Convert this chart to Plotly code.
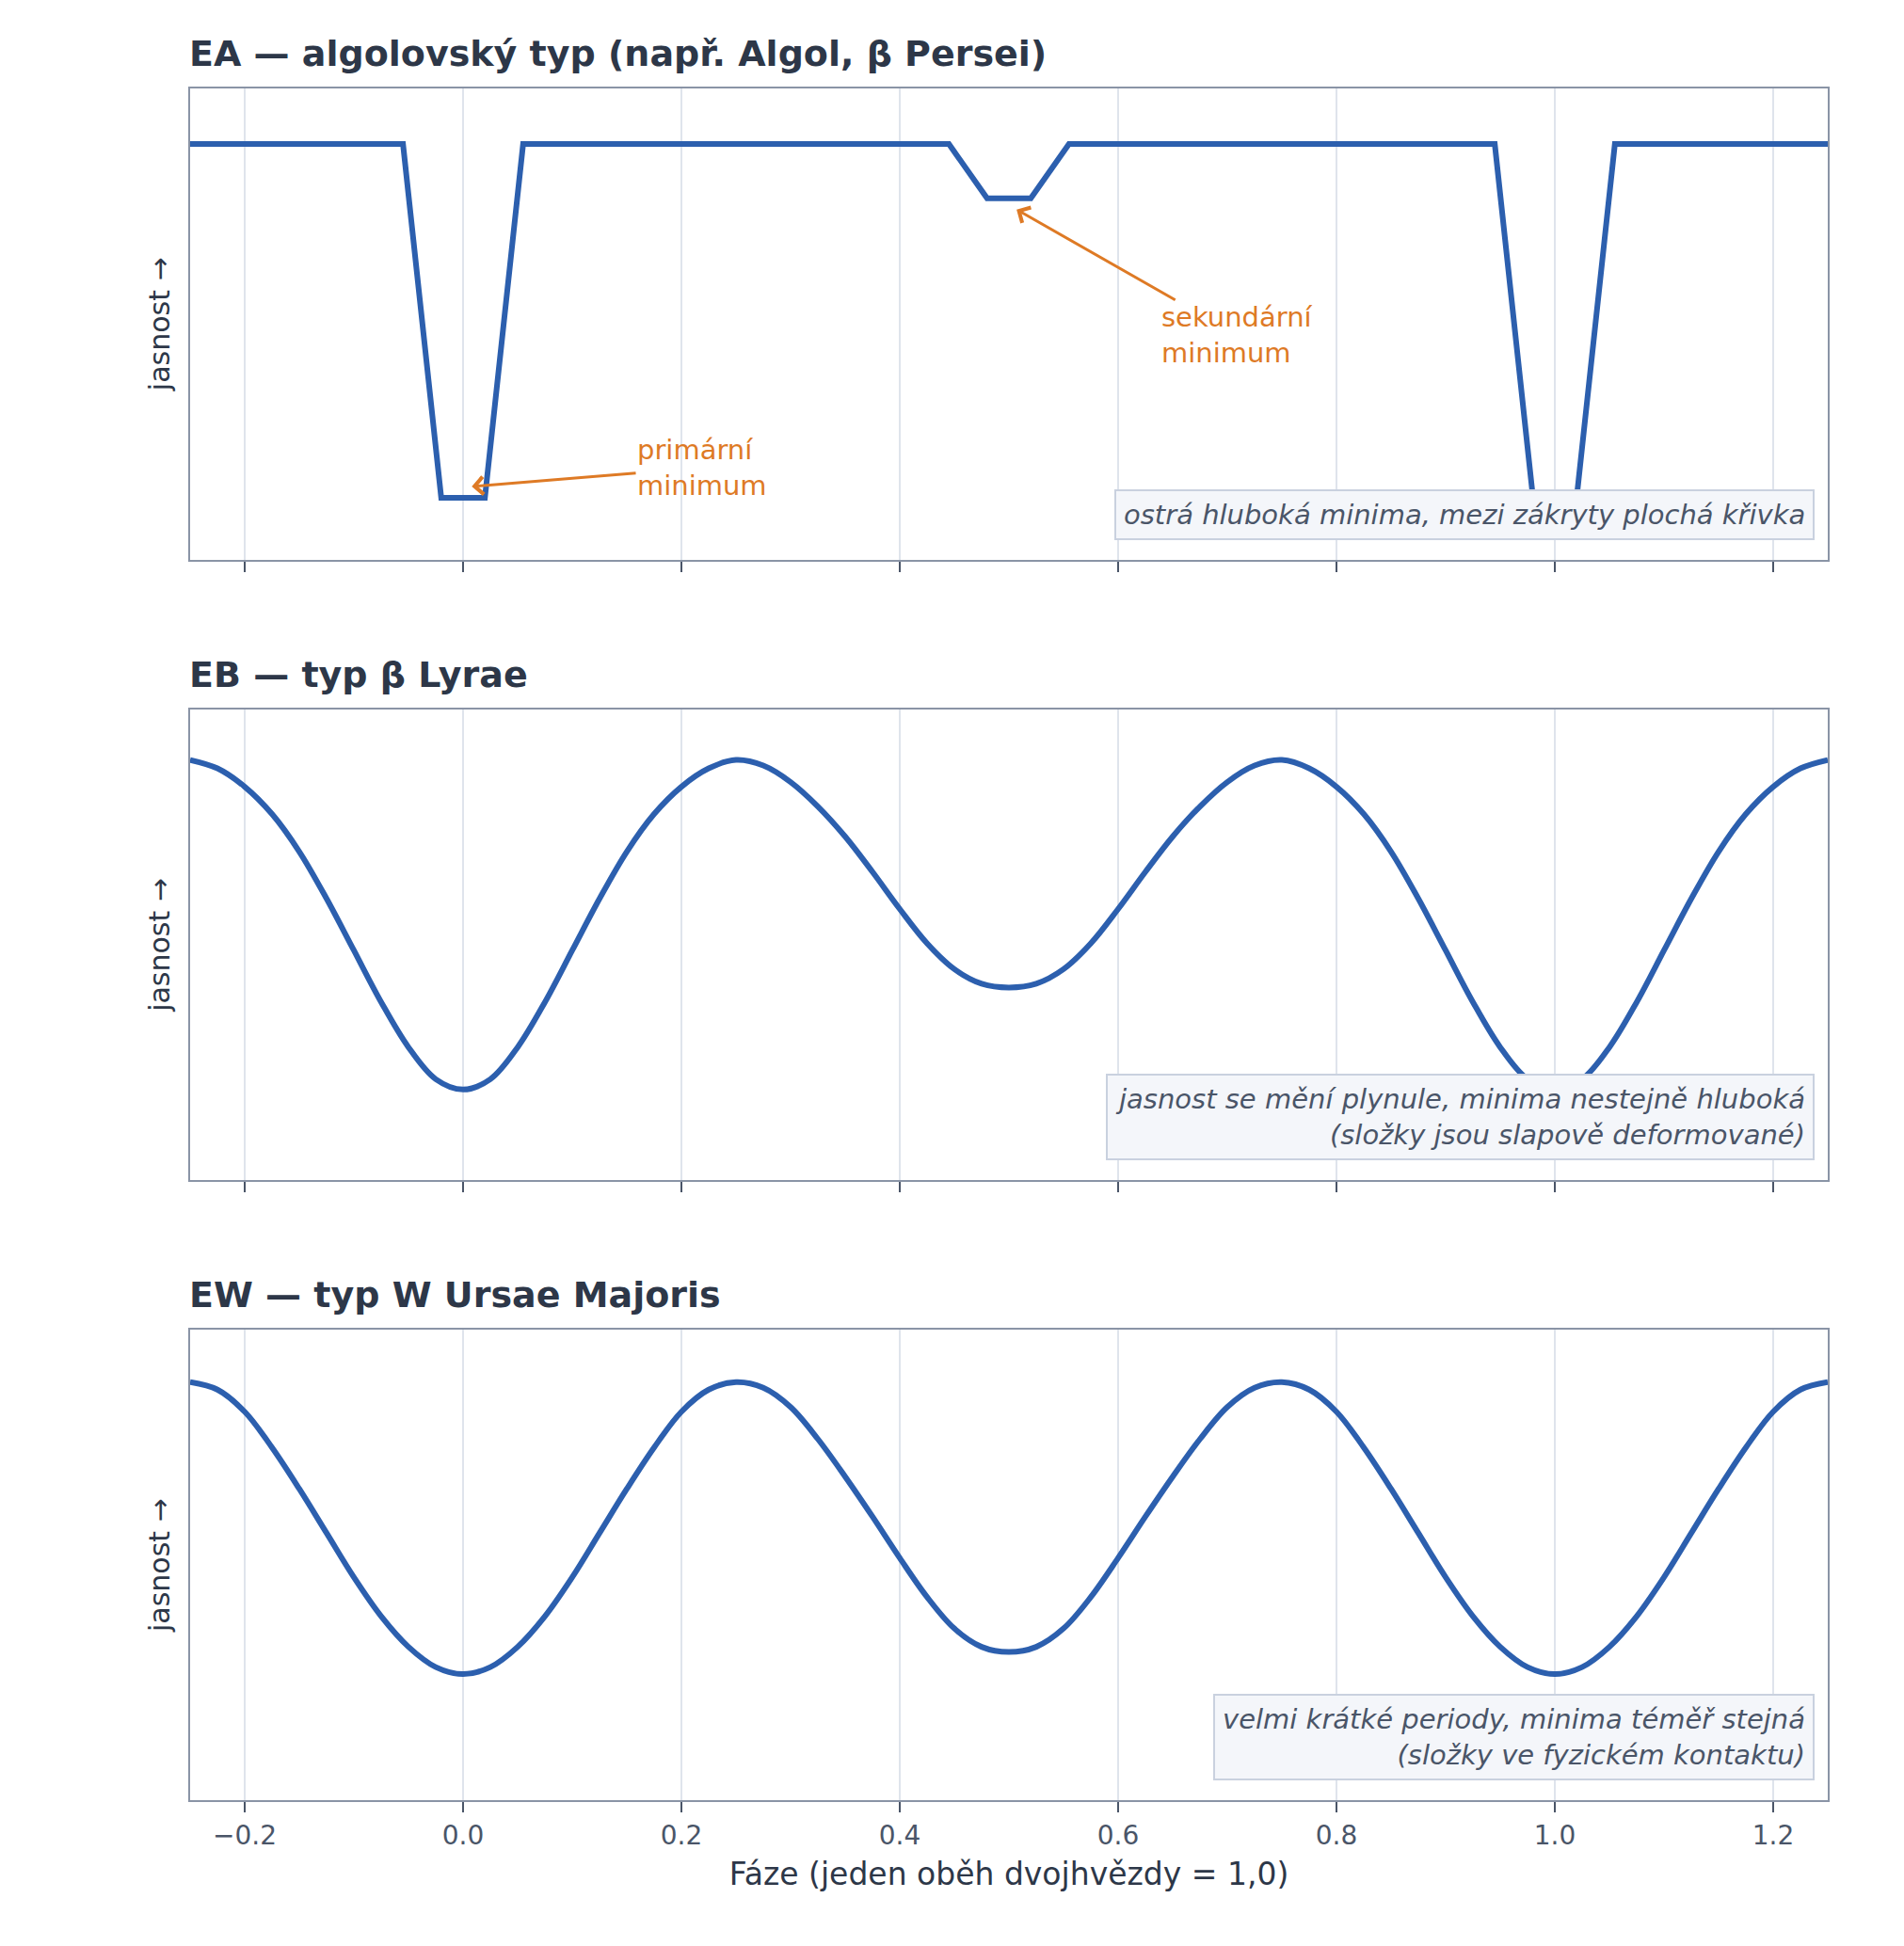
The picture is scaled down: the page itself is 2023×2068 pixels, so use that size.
import plotly.graph_objects as go
from plotly.subplots import make_subplots

# EA (Algol): piecewise light curve, brightness in axis fraction units
phase_ea = [-0.25, -0.055, -0.02, 0.02, 0.055, 0.445, 0.48, 0.52, 0.555,
            0.945, 0.98, 1.02, 1.055, 1.25]
flux_ea = [0.882, 0.882, 0.131, 0.131, 0.882, 0.882, 0.767, 0.767, 0.882,
           0.882, 0.131, 0.131, 0.882, 0.882]

# EB / EW: values read every 0.025 in phase
phase_smooth = [-0.25, -0.225, -0.2, -0.175, -0.15, -0.125, -0.1, -0.075, -0.05, -0.025,
                0.0, 0.025, 0.05, 0.075, 0.1, 0.125, 0.15, 0.175, 0.2, 0.225,
                0.25, 0.275, 0.3, 0.325, 0.35, 0.375, 0.4, 0.425, 0.45, 0.475,
                0.5, 0.525, 0.55, 0.575, 0.6, 0.625, 0.65, 0.675, 0.7, 0.725,
                0.75, 0.775, 0.8, 0.825, 0.85, 0.875, 0.9, 0.925, 0.95, 0.975,
                1.0, 1.025, 1.05, 1.075, 1.1, 1.125, 1.15, 1.175, 1.2, 1.225, 1.25]
flux_eb = [0.893, 0.875, 0.836, 0.778, 0.698, 0.598, 0.488, 0.378, 0.282, 0.214,
           0.192, 0.214, 0.282, 0.378, 0.488, 0.598, 0.698, 0.778, 0.836, 0.875,
           0.893, 0.881, 0.846, 0.794, 0.730, 0.655, 0.576, 0.503, 0.448, 0.417,
           0.409, 0.417, 0.448, 0.503, 0.576, 0.655, 0.730, 0.794, 0.846, 0.881,
           0.893, 0.875, 0.836, 0.778, 0.698, 0.598, 0.488, 0.378, 0.282, 0.214,
           0.192, 0.214, 0.282, 0.378, 0.488, 0.598, 0.698, 0.778, 0.836, 0.875, 0.893]
flux_ew = [0.889, 0.873, 0.826, 0.750, 0.662, 0.568, 0.474, 0.391, 0.326, 0.283,
           0.268, 0.283, 0.326, 0.391, 0.474, 0.568, 0.662, 0.750, 0.826, 0.873,
           0.889, 0.877, 0.836, 0.768, 0.688, 0.603, 0.515, 0.432, 0.365, 0.326,
           0.315, 0.326, 0.365, 0.432, 0.515, 0.603, 0.688, 0.768, 0.836, 0.877,
           0.889, 0.873, 0.826, 0.750, 0.662, 0.568, 0.474, 0.391, 0.326, 0.283,
           0.268, 0.283, 0.326, 0.391, 0.474, 0.568, 0.662, 0.750, 0.826, 0.873, 0.889]

tick_vals = [-0.2, 0.0, 0.2, 0.4, 0.6, 0.8, 1.0, 1.2]
tick_text = ["−0.2", "0.0", "0.2", "0.4", "0.6", "0.8", "1.0", "1.2"]

panel_titles = [
    "EA — algolovský typ (např. Algol, β Persei)",
    "EB — typ β Lyrae",
    "EW — typ W Ursae Majoris",
]
panel_notes = [
    "ostrá hluboká minima, mezi zákryty plochá křivka",
    "jasnost se mění plynule, minima nestejně hluboká<br>(složky jsou slapově deformované)",
    "velmi krátké periody, minima téměř stejná<br>(složky ve fyzickém kontaktu)",
]

FONT = "DejaVu Sans"
BLUE = "#2c5fae"
ORANGE = "#de7a25"
DARK = "#2d3748"
MUTED = "#4a5568"
FRAME = "#8a94a6"
GRID = "#dfe4ec"

fig = make_subplots(rows=3, cols=1)
curves = [(phase_ea, flux_ea, "linear"), (phase_smooth, flux_eb, "spline"),
          (phase_smooth, flux_ew, "spline")]
for i, (xs, ys, shape) in enumerate(curves, start=1):
    line = dict(color=BLUE, width=6, shape=shape)
    if shape == "spline":
        line["smoothing"] = 1.0
    fig.add_trace(go.Scatter(x=xs, y=ys, mode="lines", showlegend=False, line=line),
                  row=i, col=1)

domains = [[0.7248, 1.0], [0.3624, 0.6371], [0.0, 0.2747]]
annotations = []
for i in range(3):
    sfx = "" if i == 0 else str(i + 1)
    fig.layout["xaxis" + sfx].update(
        domain=[0, 1], range=[-0.25, 1.25], tickvals=tick_vals, ticktext=tick_text,
        showticklabels=(i == 2), ticks="outside", ticklen=11, tickwidth=2, tickcolor=MUTED,
        showgrid=True, gridcolor=GRID, gridwidth=1.5, zeroline=False,
        showline=True, mirror=True, linecolor=FRAME, linewidth=2,
        tickfont=dict(family=FONT, size=28, color=MUTED),
    )
    fig.layout["yaxis" + sfx].update(
        domain=domains[i], range=[0, 1], showticklabels=False, ticks="",
        showgrid=False, zeroline=False, showline=True, mirror=True,
        linecolor=FRAME, linewidth=2,
        title=dict(text="jasnost →", standoff=10, font=dict(family=FONT, size=30, color=DARK)),
    )
    annotations.append(dict(
        text="<b>%s</b>" % panel_titles[i], xref="x%s domain" % sfx, yref="y%s domain" % sfx,
        x=0, y=1, xanchor="left", yanchor="middle", yshift=37, xshift=-3, showarrow=False,
        font=dict(family=FONT, size=38, color=DARK),
    ))
    annotations.append(dict(
        text="<i>%s</i>" % panel_notes[i], xref="x%s domain" % sfx, yref="y%s domain" % sfx,
        x=0.992, y=0.042, xanchor="right", yanchor="bottom", align="right", showarrow=False,
        bgcolor="#f4f6fa", bordercolor="#c9d1df", borderwidth=2, borderpad=8,
        font=dict(family=FONT, size=29, color=MUTED),
    ))

# arrows pointing at the minima in the EA panel
annotations.append(dict(
    text="primární<br>minimum", x=0.008, y=0.155, xref="x", yref="y",
    ax=0.219, ay=0.195, axref="x", ayref="y", align="left",
    showarrow=True, arrowhead=4, arrowsize=1.2, arrowwidth=3, arrowcolor=ORANGE,
    font=dict(family=FONT, size=29, color=ORANGE),
))
annotations.append(dict(
    text="sekundární<br>minimum", x=0.507, y=0.743, xref="x", yref="y",
    ax=0.709, ay=0.476, axref="x", ayref="y", align="left",
    showarrow=True, arrowhead=4, arrowsize=1.2, arrowwidth=3, arrowcolor=ORANGE,
    font=dict(family=FONT, size=29, color=ORANGE),
))

fig.update_layout(
    width=2023, height=2068,
    margin=dict(l=194, r=89, t=86, b=163),
    paper_bgcolor="white", plot_bgcolor="white",
    font=dict(family=FONT, color=DARK),
    annotations=annotations,
)
fig.layout.xaxis3.title = dict(text="Fáze (jeden oběh dvojhvězdy = 1,0)", standoff=14,
                               font=dict(family=FONT, size=33, color=DARK))

fig.write_html("out.html")
